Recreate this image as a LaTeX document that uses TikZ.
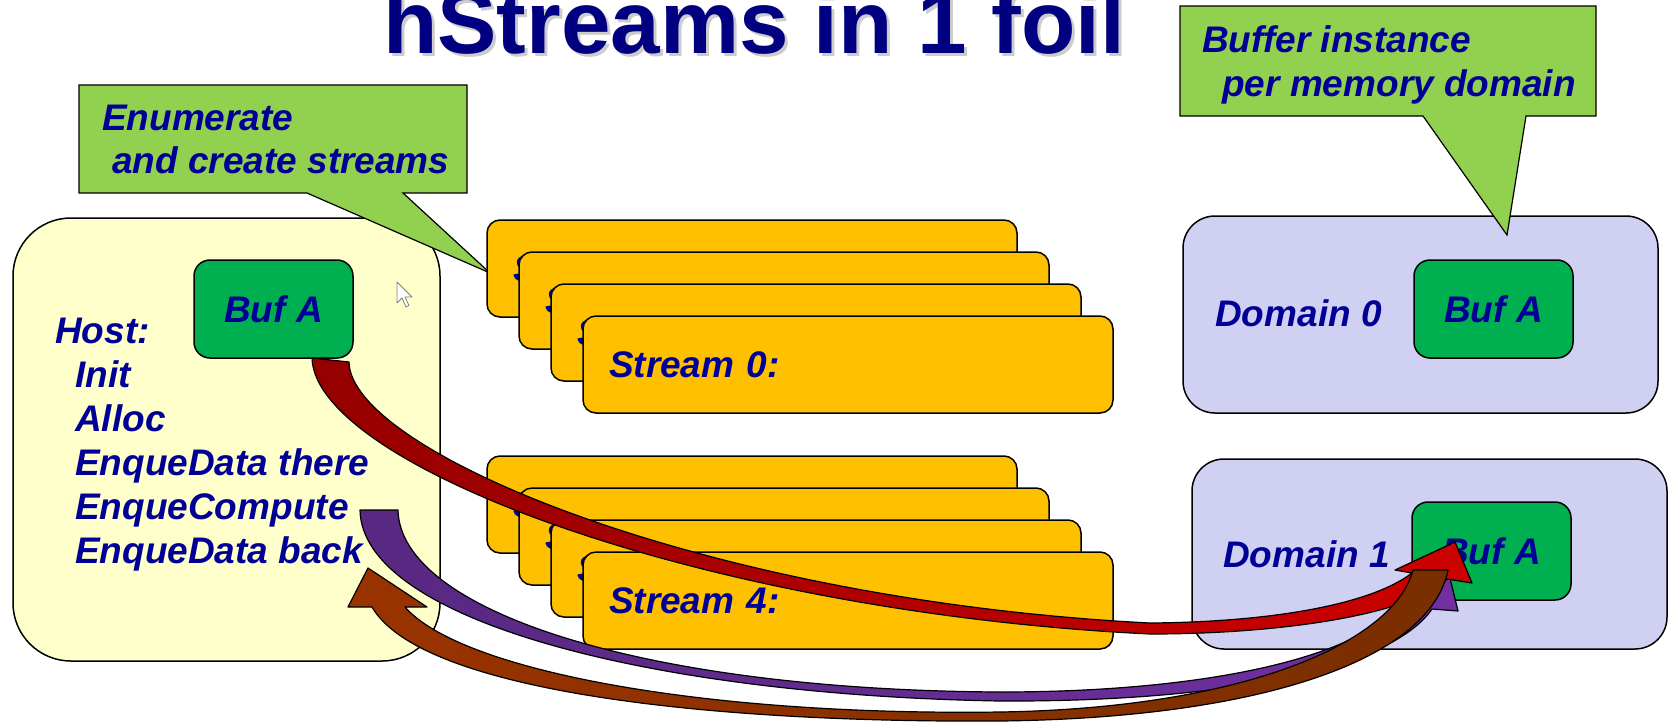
\documentclass[tikz,border=0pt]{standalone}
\usepackage{fontspec}
\setmainfont{Liberation Sans}
\usetikzlibrary{positioning}
\definecolor{txtblue}{RGB}{0,0,150}
\definecolor{titleblue}{RGB}{0,0,128}
\definecolor{hostyellow}{RGB}{255,255,204}
\definecolor{bufgreen}{RGB}{0,176,80}
\definecolor{notegreen}{RGB}{146,208,80}
\definecolor{streamgold}{RGB}{255,192,0}
\definecolor{domlav}{RGB}{208,208,242}
\definecolor{redA}{RGB}{150,0,0}
\definecolor{redB}{RGB}{204,0,0}
\definecolor{purpA}{RGB}{88,40,130}
\definecolor{purpB}{RGB}{112,48,160}
\definecolor{brownA}{RGB}{153,51,0}
\definecolor{brownB}{RGB}{122,46,0}
\newcommand{\lblfont}{\fontsize{37}{44}\selectfont\bfseries\itshape}
\tikzset{%
	lbl/.style={text=txtblue, font=\lblfont, inner sep=0pt},
	hostbox/.style={draw, line width=1.5pt, fill=hostyellow, rounded corners=58pt,%
		minimum width=427pt, minimum height=443pt},
	buf/.style={draw, line width=1.5pt, fill=bufgreen, rounded corners=16pt, minimum width=159pt,%
		minimum height=98pt, inner sep=0pt, text height=26.5pt, text depth=0pt, text=txtblue, font=\lblfont},
	stream/.style={draw, line width=1.5pt, fill=streamgold, rounded corners=13pt, text width=478pt,%
		inner xsep=26pt, inner ysep=0pt, minimum height=97pt, align=left, text height=26pt,%
		text depth=0pt, text=txtblue, font=\lblfont},
	dombox/.style={draw, line width=1.5pt, fill=domlav, rounded corners=32pt, minimum width=475pt},
	bubble/.style={draw, line width=1.2pt, fill=notegreen, line join=miter},
	blockarrow/.style={draw, line width=1.2pt, line join=round},
	headline/.style={font=\fontsize{89}{100}\selectfont\bfseries, inner sep=0pt}
}
\begin{document}
\begin{tikzpicture}[x=1pt, y=-1pt]
	\useasboundingbox (0,0) rectangle (1670,724);
	\clip (0,0) rectangle (1670,724);

	% title, cut at the top
	\node[headline, text=gray!40, anchor=base west] (ttlshadow) at (386,56) {hStreams in 1 foil};
	\node[headline, text=titleblue, anchor=base west] (ttl) at (383,53) {hStreams in 1 foil};

	% host side
	\node[hostbox] (host) at (226.5,439.5) {};
	\node[buf] (hbuf) at (273.5,309) {Buf A};
	\node[lbl, align=left, anchor=base west] (hosttxt) at (55,563) {Host:\\\hspace*{20pt}Init\\\hspace*{20pt}Alloc\\%
		\hspace*{20pt}EnqueData there\\\hspace*{20pt}EnqueCompute\\\hspace*{20pt}EnqueData back};
	\draw[fill=white, draw=gray, line width=0.8pt, line join=round] (397,282) -- (397,303) -- (402,298)
		-- (406,307) -- (409,305.5) -- (405,297) -- (412,297) -- cycle;

	\path[bubble] (79,85) -- (467,85) -- (467,193) -- (403,193) -- (490,273) -- (307,193) -- (79,193) -- cycle;
	\node[lbl, anchor=base west] (enum) at (102,130) {Enumerate};
	\node[lbl, anchor=base west] (enumb) at (112,173) {and create streams};

	% streams
	\node[stream] (s3) at (752,268.5) {Stream 3:};
	\node[stream] (s2) at (784,300.5) {Stream 2:};
	\node[stream] (s1) at (816,332.5) {Stream 1:};
	\node[stream] (s0) at (848,364.5) {Stream 0:};
	\node[stream] (s7) at (752,504.5) {Stream 7:};
	\node[stream] (s6) at (784,536.5) {Stream 6:};
	\node[stream] (s5) at (816,568.5) {Stream 5:};
	\node[stream] (s4) at (848,600.5) {Stream 4:};

	% domains
	\node[dombox, minimum height=197pt] (dom0) at (1420.5,314.5) {};
	\node[buf] (dbuf0) at (1493.5,309) {Buf A};
	\node[lbl, anchor=base west] (dlbl0) at (1215,326) {Domain 0};
	\node[dombox, minimum height=190pt] (dom1) at (1429.5,554) {};
	\node[buf] (dbuf1) at (1491.5,551) {Buf A};
	\node[lbl, anchor=base west] (dlbl1) at (1223,567) {Domain 1};

	\path[bubble] (1180,6) -- (1596,6) -- (1596,116) -- (1526,116) -- (1507,235) -- (1423,116) -- (1180,116) -- cycle;
	\node[lbl, anchor=base west] (binst) at (1202,52) {Buffer instance};
	\node[lbl, anchor=base west] (binstb) at (1222,96) {per memory domain};

	% transfers
	\path[blockarrow, left color=purpA, right color=purpB] (360,510) -- (398,510)
		.. controls (400,610) and (640,690) .. (1000,692)
		.. controls (1200,692) and (1350,660) .. (1400,606)
		-- (1380,604) -- (1447,566) -- (1458,611) -- (1432,609)
		.. controls (1390,670) and (1220,702) .. (1000,701)
		.. controls (650,695) and (362,620) .. (360,510) -- cycle;
	\path[blockarrow, left color=redA, right color=redB] (312,358) -- (349,362)
		.. controls (350,450) and (700,600) .. (1150,623)
		.. controls (1270,622) and (1370,605) .. (1412,573)
		-- (1395,570) -- (1455,542) -- (1472,583) -- (1447,579)
		.. controls (1410,615) and (1280,634) .. (1150,634)
		.. controls (700,612) and (315,465) .. (312,358) -- cycle;
	\path[blockarrow, left color=brownA, right color=brownB] (1413,570)
		.. controls (1395,640) and (1250,708) .. (1000,712)
		.. controls (700,716) and (460,670) .. (405,607)
		-- (427,607) -- (368,568) -- (348,607) -- (372,607)
		.. controls (420,690) and (700,723) .. (1000,721)
		.. controls (1260,718) and (1430,660) .. (1448,570) -- cycle;
\end{tikzpicture}
\end{document}
